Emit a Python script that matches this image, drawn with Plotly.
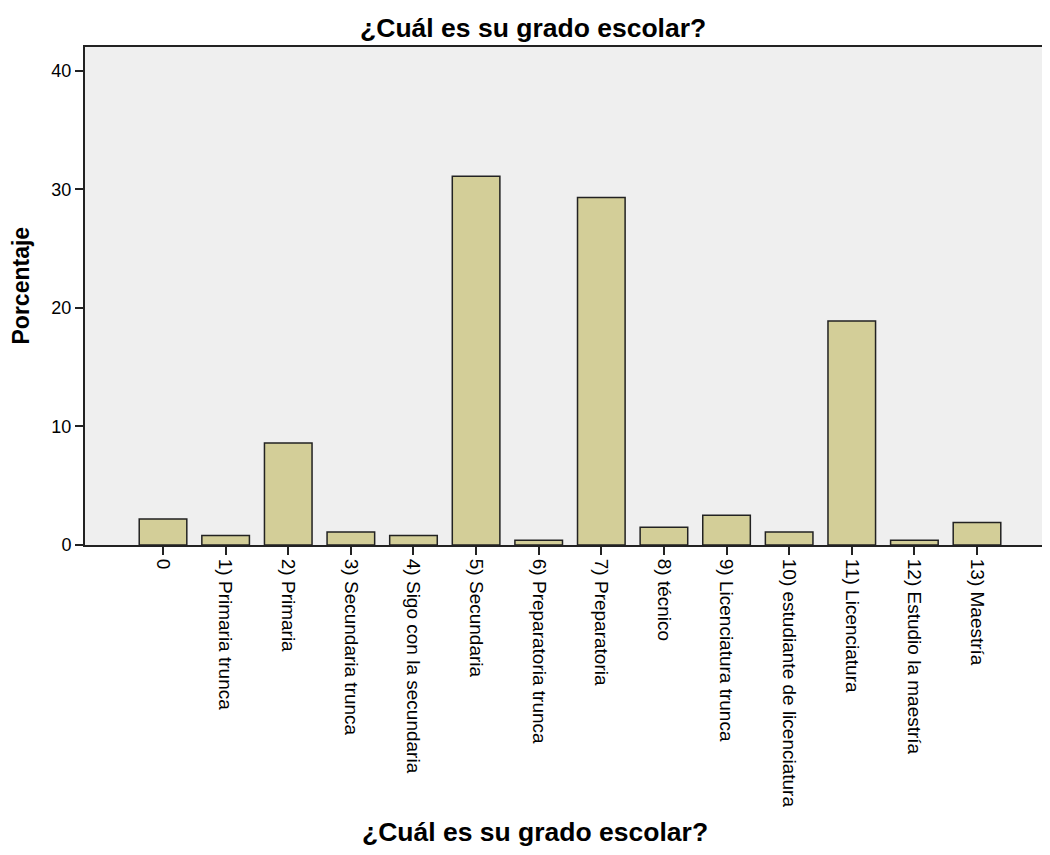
import plotly.graph_objects as go

categories = ["0", "1) Primaria trunca", "2) Primaria", "3) Secundaria trunca",
              "4) Sigo con la secundaria", "5) Secundaria", "6) Preparatoria trunca",
              "7) Preparatoria", "8) técnico", "9) Licenciatura trunca",
              "10) estudiante de licenciatura", "11) Licenciatura",
              "12) Estudio la maestría", "13) Maestría"]
percent = [2.2, 0.8, 8.6, 1.1, 0.8, 31.1, 0.4, 29.3, 1.5, 2.5, 1.1, 18.9, 0.4, 1.9]
y_ticks = [0, 10, 20, 30, 40]

title = "¿Cuál es su grado escolar?"
font = "Liberation Sans, Arial, sans-serif"

fig = go.Figure()
fig.add_trace(go.Bar(
    x=list(range(len(categories))), y=percent,
    width=0.76,
    marker=dict(color="#D3CE98", line=dict(color="#222222", width=1.5)),
))

# the page body has an 8px margin, so the figure is sized to fit inside it
fig.update_layout(
    width=1042, height=839,
    margin=dict(l=77, r=2, t=39, b=302),
    paper_bgcolor="white", plot_bgcolor="#EFEFEF",
    showlegend=False,
    font=dict(family=font, color="black", size=18),
    title=dict(text="<b>" + title + "</b>", x=0.504, xanchor="center",
               y=0.977, yanchor="middle", font=dict(size=26.5)),
    annotations=[
        dict(text="<b>" + title + "</b>", xref="paper", yref="paper",
             x=0.467, y=-0.576, xanchor="center", yanchor="middle",
             showarrow=False, font=dict(size=26.5)),
        dict(text="<b>Porcentaje</b>", xref="paper", yref="paper",
             x=-0.066, y=0.522, xanchor="center", yanchor="middle",
             textangle=-90, showarrow=False, font=dict(size=23)),
    ],
)
fig.update_xaxes(
    range=[-1.246, 14.134], tickmode="array",
    tickvals=list(range(len(categories))), ticktext=categories,
    tickangle=90, ticks="outside", ticklen=8, tickwidth=2, tickcolor="#222222",
    showline=True, linecolor="#222222", linewidth=2, mirror=True,
    showgrid=False, zeroline=False, automargin=False,
    tickfont=dict(size=19),
)
fig.update_yaxes(
    range=[0, 42], tickvals=y_ticks,
    ticks="outside", ticklen=8, tickwidth=2, tickcolor="#222222",
    showline=True, linecolor="#222222", linewidth=2,
    showgrid=False, zeroline=False, automargin=False,
    tickfont=dict(size=18),
)

fig.write_html("out.html")
